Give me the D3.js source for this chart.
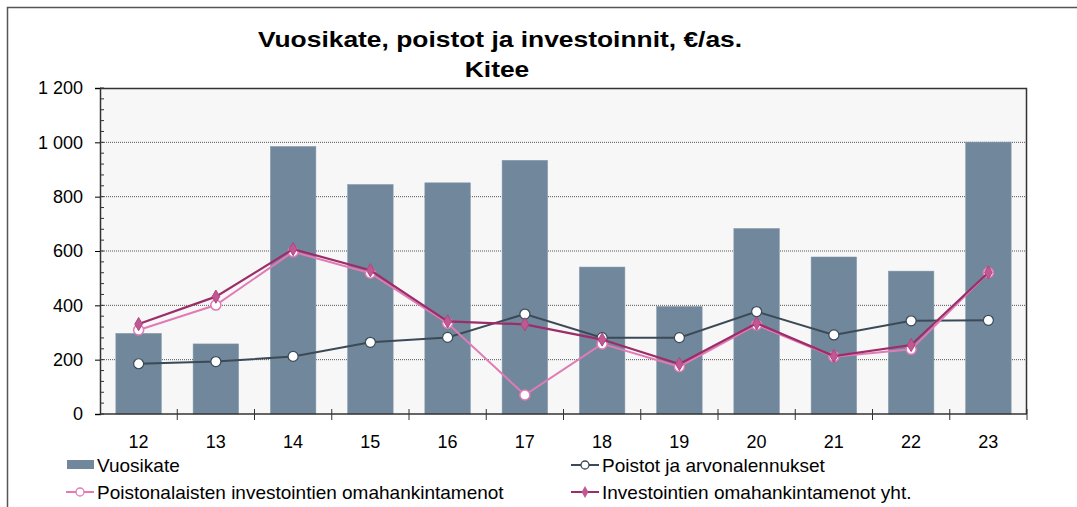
<!DOCTYPE html>
<html>
<head>
<meta charset="utf-8">
<script src="https://cdn.jsdelivr.net/npm/d3@7"></script>
<style>
  body { margin: 0; background: #fff; }
  text { font-family: "Liberation Sans", Arial, sans-serif; fill: #000; }
</style>
</head>
<body>
<div class="chart"></div>
<script>
// data
var years = ["12", "13", "14", "15", "16", "17", "18", "19", "20", "21", "22", "23"];
var vuosikate = [297, 258, 985, 845, 851, 934, 541, 396, 683, 578, 526, 1001];
var poistot = [185, 193, 212, 264, 282, 368, 281, 281, 377, 291, 343, 345];
var poistonalaiset = [309, 401, 597, 518, 334, 70, 258, 174, 328, 211, 238, 520];
var investoinnitYht = [331, 432, 607, 529, 341, 330, 274, 184, 334, 213, 254, 521];
var yTicks = [0, 200, 400, 600, 800, 1000, 1200];

var svgWidth = 1077;
var svgHeight = 507;

var margin = { top: 88, right: 50, bottom: 93, left: 100 };
var width = svgWidth - margin.left - margin.right;
var height = svgHeight - margin.top - margin.bottom;

var barColor = "#71879c";
var darkLine = "#3b4a56";
var pinkLine = "#e07bb6";
var magLine = "#9c2d68";

var svg = d3.select(".chart")
  .append("svg")
  .attr("width", svgWidth)
  .attr("height", svgHeight);

// outer frame
svg.append("path")
  .attr("d", "M7.5," + svgHeight + " V7.5 H" + svgWidth)
  .attr("fill", "none")
  .attr("stroke", "#555")
  .attr("stroke-width", 1.5);

// title (stretched a bit wider like the original)
svg.append("text")
  .attr("transform", "translate(500,47) scale(1.2,1)")
  .attr("text-anchor", "middle")
  .style("font-size", "22px").style("font-weight", "bold")
  .text("Vuosikate, poistot ja investoinnit, €/as.");
svg.append("text")
  .attr("transform", "translate(497,77) scale(1.2,1)")
  .attr("text-anchor", "middle")
  .style("font-size", "22px").style("font-weight", "bold")
  .text("Kitee");

var chartGroup = svg.append("g")
  .attr("transform", `translate(${margin.left}, ${margin.top})`);

var xScale = d3.scaleBand()
  .domain(years)
  .range([0, width]);

var yScale = d3.scaleLinear()
  .domain([0, 1200])
  .range([height, 0]);

// plot background
chartGroup.append("rect")
  .attr("width", width).attr("height", height)
  .attr("fill", "#f7f7f7");

// gridlines
chartGroup.selectAll(".grid")
  .data(yTicks.slice(1, -1))
  .enter()
  .append("line")
  .attr("x1", 0).attr("x2", width)
  .attr("y1", d => yScale(d)).attr("y2", d => yScale(d))
  .attr("stroke", "#555")
  .attr("stroke-width", 1)
  .attr("stroke-dasharray", "1,1");

// bars
var barW = xScale.bandwidth() * 0.59;
chartGroup.selectAll(".bar")
  .data(vuosikate)
  .enter()
  .append("rect")
  .attr("x", (d, i) => xScale(years[i]) + (xScale.bandwidth() - barW) / 2)
  .attr("y", d => yScale(d))
  .attr("width", barW)
  .attr("height", d => height - yScale(d))
  .attr("fill", barColor)
  .attr("stroke", "#8a9cae")
  .attr("stroke-width", 0.5);

// plot frame top/right
chartGroup.append("path")
  .attr("d", "M0,0.5 H" + (width - 0.5) + " V" + height)
  .attr("fill", "none")
  .attr("stroke", "#333")
  .attr("stroke-width", 1.5);

// y axis
var leftAxis = d3.axisLeft(yScale)
  .tickValues(yTicks)
  .tickSize(5)
  .tickPadding(12)
  .tickFormat(d => d3.format(",")(d).replace(",", " "));
var yAxisG = chartGroup.append("g").call(leftAxis);
yAxisG.select(".domain").attr("stroke", "#333").attr("stroke-width", 1.5);
yAxisG.selectAll("text").style("font-size", "18px").attr("fill", "#000");

// minor ticks inside
var minor = d3.range(0, 1201, 40);
chartGroup.selectAll(".minor")
  .data(minor)
  .enter()
  .append("line")
  .attr("x1", 0).attr("x2", 4)
  .attr("y1", d => yScale(d)).attr("y2", d => yScale(d))
  .attr("stroke", "#333");

// x axis
var xAxisG = chartGroup.append("g")
  .attr("transform", `translate(0, ${height})`);
xAxisG.append("line")
  .attr("x1", 0).attr("x2", width)
  .attr("stroke", "#333").attr("stroke-width", 1.5);
xAxisG.selectAll(".xtick")
  .data(years.slice(1).concat(["end"]))
  .enter()
  .append("line")
  .attr("x1", (d, i) => i < years.length - 1 ? xScale(d) : width)
  .attr("x2", (d, i) => i < years.length - 1 ? xScale(d) : width)
  .attr("y1", -5).attr("y2", 6)
  .attr("stroke", "#333");
xAxisG.selectAll(".xlabel")
  .data(years)
  .enter()
  .append("text")
  .attr("x", d => xScale(d) + xScale.bandwidth() / 2)
  .attr("y", 34)
  .attr("text-anchor", "middle")
  .style("font-size", "18px")
  .text(d => d);

// lines
var cx = i => xScale(years[i]) + xScale.bandwidth() / 2;
function drawLine(values, color, w) {
  var line = d3.line()
    .x((d, i) => cx(i))
    .y(d => yScale(d));
  chartGroup.append("path")
    .datum(values)
    .attr("d", line)
    .attr("fill", "none")
    .attr("stroke", color)
    .attr("stroke-width", w);
}

drawLine(poistot, darkLine, 2);
chartGroup.selectAll(".pdot")
  .data(poistot)
  .enter()
  .append("circle")
  .attr("cx", (d, i) => cx(i))
  .attr("cy", d => yScale(d))
  .attr("r", 5)
  .attr("fill", "#fff")
  .attr("stroke", darkLine)
  .attr("stroke-width", 1.2);

drawLine(poistonalaiset, pinkLine, 2);
chartGroup.selectAll(".pidot")
  .data(poistonalaiset)
  .enter()
  .append("circle")
  .attr("cx", (d, i) => cx(i))
  .attr("cy", d => yScale(d))
  .attr("r", 5)
  .attr("fill", "#fff")
  .attr("stroke", pinkLine)
  .attr("stroke-width", 1.5);

drawLine(investoinnitYht, magLine, 2.2);
var diamond = d3.symbol().type(d3.symbolDiamond).size(50);
chartGroup.selectAll(".idot")
  .data(investoinnitYht)
  .enter()
  .append("path")
  .attr("d", diamond)
  .attr("transform", (d, i) => `translate(${cx(i)}, ${yScale(d)})`)
  .attr("fill", "#c25893")
  .attr("stroke", "#b04580")
  .attr("stroke-width", 1);

// legend
var legend = svg.append("g");
function legendLine(x, y, color, type, label) {
  var g = legend.append("g").attr("transform", `translate(${x}, ${y})`);
  g.append("line").attr("x1", 0).attr("x2", 28)
    .attr("stroke", color).attr("stroke-width", 2);
  if (type == "circle") {
    g.append("circle").attr("cx", 14).attr("r", 4)
      .attr("fill", "#fff").attr("stroke", color).attr("stroke-width", 1.3);
  } else {
    g.append("path").attr("d", d3.symbol().type(d3.symbolDiamond).size(40))
      .attr("transform", "translate(14,0)").attr("fill", "#c25893");
  }
  g.append("text").attr("x", 31).attr("y", 7)
    .style("font-size", "19px").text(label);
}
legend.append("rect")
  .attr("x", 67).attr("y", 460).attr("width", 27).attr("height", 9)
  .attr("fill", barColor);
legend.append("text")
  .attr("x", 97).attr("y", 472)
  .style("font-size", "19px").text("Vuosikate");
legendLine(571, 465, darkLine, "circle", "Poistot ja arvonalennukset");
legendLine(66, 492, pinkLine, "circle", "Poistonalaisten investointien omahankintamenot");
legendLine(571, 492, magLine, "diamond", "Investointien omahankintamenot yht.");
</script>
</body>
</html>
